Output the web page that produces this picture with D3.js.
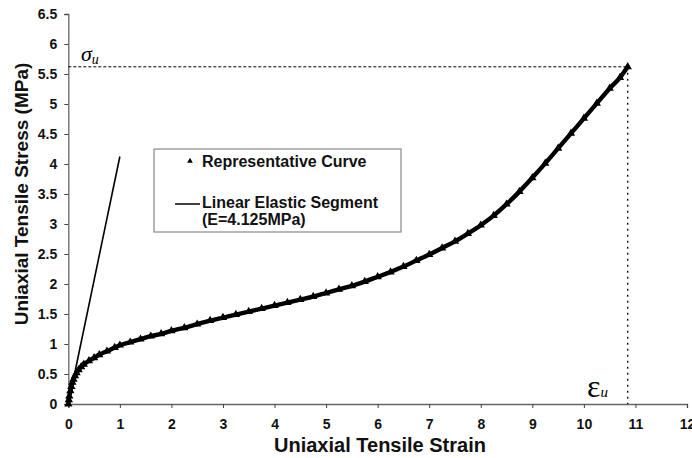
<!DOCTYPE html>
<html><head><meta charset="utf-8">
<script src="https://cdn.jsdelivr.net/npm/d3@7"></script>
<style>body{margin:0;background:#fff}svg{display:block}</style>
</head><body>
<svg id="c" width="692" height="458"></svg>
<script>
const strain = [0,0.01,0.02,0.04,0.06,0.08,0.1,0.13,0.16,0.2,0.25,0.3,0.4,0.5,0.6,0.75,0.9,1.0,1.2,1.4,1.6,1.8,2.0,2.25,2.5,2.75,3.0,3.25,3.5,3.75,4.0,4.25,4.5,4.75,5.0,5.25,5.5,5.75,6.0,6.25,6.5,6.75,7.0,7.25,7.5,7.75,8.0,8.25,8.5,8.75,9.0,9.25,9.5,9.75,10.0,10.25,10.5,10.7,10.85];
const stress = [0,0.07,0.13,0.22,0.29,0.36,0.41,0.47,0.52,0.57,0.62,0.66,0.72,0.77,0.82,0.88,0.94,0.98,1.03,1.08,1.13,1.17,1.22,1.27,1.33,1.39,1.44,1.49,1.54,1.59,1.64,1.69,1.74,1.79,1.85,1.91,1.97,2.04,2.12,2.2,2.29,2.39,2.49,2.6,2.71,2.84,2.98,3.14,3.33,3.54,3.77,4.01,4.26,4.51,4.76,5.01,5.26,5.44,5.62];
const elasticStrain = [0, 1.0];
const modulusE = 4.125;
const ultimateStrain = 10.85;
const ultimateStress = 5.62;
const xTicks = [0,1,2,3,4,5,6,7,8,9,10,11,12];
const yTicks = [0,0.5,1,1.5,2,2.5,3,3.5,4,4.5,5,5.5,6,6.5];

const svg = d3.select("#c");
const x = d3.scaleLinear().domain([0,12]).range([68.3,687]);
const y = d3.scaleLinear().domain([0,6.5]).range([404,14]);
const font = "'Liberation Sans', Arial, sans-serif";

// axes
const xa = svg.append("g").attr("transform","translate(0,404)")
  .call(d3.axisBottom(x).tickValues(xTicks).tickSize(4).tickPadding(11).tickFormat(d3.format("d")));
const ya = svg.append("g").attr("transform","translate(68.3,0)")
  .call(d3.axisLeft(y).tickValues(yTicks).tickSize(4).tickPadding(7).tickFormat(d=>String(d)));
[xa,ya].forEach(a=>{
  a.select(".domain").attr("stroke","#666").attr("stroke-width",1.3);
  a.selectAll(".tick line").attr("stroke","#444");
  a.selectAll(".tick text").attr("font-family",font).attr("font-weight","bold").attr("font-size",14).attr("fill","#111");
});

// dashed guide lines
svg.append("line").attr("x1",x(0)).attr("x2",x(ultimateStrain)).attr("y1",y(ultimateStress)).attr("y2",y(ultimateStress))
  .attr("stroke","#000").attr("stroke-width",1).attr("stroke-dasharray","3,2");
svg.append("line").attr("x1",x(ultimateStrain)).attr("x2",x(ultimateStrain)).attr("y1",y(ultimateStress)).attr("y2",y(0))
  .attr("stroke","#000").attr("stroke-width",1.3).attr("stroke-dasharray","2,4");

// linear elastic segment
svg.append("path").datum(elasticStrain)
  .attr("d", d3.line().x(d=>x(d)).y(d=>y(d*modulusE)))
  .attr("fill","none").attr("stroke","#000").attr("stroke-width",1.6);

// representative curve
const pts = strain.map((s,i)=>[s,stress[i]]);
svg.append("path").datum(pts)
  .attr("d", d3.line().x(d=>x(d[0])).y(d=>y(d[1])).curve(d3.curveMonotoneX))
  .attr("fill","none").attr("stroke","#000").attr("stroke-width",4.4);
const tri = d3.symbol().type(d3.symbolTriangle).size(30);
svg.append("g").selectAll("path").data(pts).join("path")
  .attr("transform",d=>`translate(${x(d[0])},${y(d[1])})`).attr("d",tri).attr("fill","#000");

// legend
const lg = svg.append("g");
lg.append("rect").attr("x",154).attr("y",149).attr("width",247).attr("height",83)
  .attr("fill","#fff").attr("stroke","#888").attr("stroke-width",1.2);
lg.append("path").attr("transform","translate(190,161)").attr("d",d3.symbol().type(d3.symbolTriangle).size(14)()).attr("fill","#000");
lg.append("line").attr("x1",175).attr("x2",200).attr("y1",204).attr("y2",204).attr("stroke","#000").attr("stroke-width",1.5);
const lt = [["Representative Curve",166.7],["Linear Elastic Segment",208.3],["(E=4.125MPa)",225]];
lg.selectAll("text").data(lt).join("text").attr("x",202).attr("y",d=>d[1]).text(d=>d[0])
  .attr("font-family",font).attr("font-weight","bold").attr("font-size",16).attr("fill","#111");

// axis titles
svg.append("text").attr("x",380).attr("y",452).attr("text-anchor","middle")
  .attr("font-family",font).attr("font-weight","bold").attr("font-size",20).attr("fill","#111")
  .text("Uniaxial Tensile Strain");
svg.append("text").attr("transform","translate(28,194) rotate(-90)").attr("text-anchor","middle")
  .attr("font-family",font).attr("font-weight","bold").attr("font-size",19).attr("fill","#111")
  .text("Uniaxial Tensile Stress (MPa)");

// symbols
const sg = svg.append("text").attr("x",81).attr("y",61).attr("font-family","'Liberation Serif', 'DejaVu Serif', serif").attr("font-style","italic").attr("font-size",22);
sg.append("tspan").text("σ");
sg.append("tspan").attr("dy",3).attr("font-size",14).text("u");
const eg = svg.append("text").attr("x",587).attr("y",397).attr("font-family","'Liberation Serif', 'DejaVu Serif', serif").attr("font-size",32);
eg.append("tspan").text("ε");
eg.append("tspan").attr("font-style","italic").attr("font-size",15).text("u");
</script>
</body></html>
